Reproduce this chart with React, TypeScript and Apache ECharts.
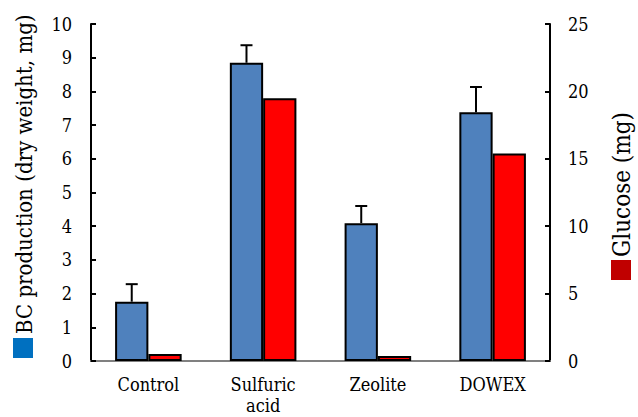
import React, { useEffect, useRef } from "react";
import * as echarts from "echarts";

const categories = ["Control", "Sulfuric\nacid", "Zeolite", "DOWEX"];
const bcProduction = [1.76, 8.85, 4.09, 7.38];
const bcError = [0.52, 0.52, 0.51, 0.75];
const glucose = [0.52, 19.5, 0.38, 15.4];
const leftTicks = { min: 0, max: 10, interval: 1 };
const rightTicks = { min: 0, max: 25, interval: 5 };

const FONT = "DejaVu Serif Condensed, DejaVu Serif";

export default function App() {
  const ref = useRef<HTMLDivElement>(null);
  useEffect(() => {
    if (!ref.current) return;
    const chart = echarts.init(ref.current, undefined, { renderer: "svg" });
    const catGap = 0.42;
    const option: any = {
      animation: false,
      backgroundColor: "#ffffff",
      textStyle: { fontFamily: FONT },
      grid: {
        left: 91,
        right: 88,
        top: 24,
        bottom: 56,
        containLabel: false,
        outerBoundsMode: "none",
      },
      xAxis: [
        {
          type: "category",
          data: categories,
          position: "bottom",
          axisLine: { lineStyle: { color: "#000", width: 2 } },
          axisTick: { inside: true, length: 5, lineStyle: { color: "#000", width: 2 } },
          axisLabel: { color: "#000", fontSize: 18, fontFamily: FONT, margin: 13, lineHeight: 21 },
        },
        {
          type: "category",
          data: categories,
          position: "top",
          axisLine: { lineStyle: { color: "#808080", width: 2 } },
          axisTick: { show: false },
          axisLabel: { show: false },
        },
      ],
      yAxis: [
        {
          type: "value",
          position: "left",
          min: leftTicks.min,
          max: leftTicks.max,
          interval: leftTicks.interval,
          splitLine: { show: false },
          axisLine: { show: true, lineStyle: { color: "#000", width: 2 } },
          axisTick: { show: true, inside: true, length: 5, lineStyle: { color: "#000", width: 2 } },
          axisLabel: { color: "#000", fontSize: 18, fontFamily: FONT, margin: 19 },
        },
        {
          type: "value",
          position: "right",
          min: rightTicks.min,
          max: rightTicks.max,
          interval: rightTicks.interval,
          splitLine: { show: false },
          axisLine: { show: true, lineStyle: { color: "#000", width: 2 } },
          axisTick: { show: true, inside: true, length: 5, lineStyle: { color: "#000", width: 2 } },
          axisLabel: { color: "#000", fontSize: 18, fontFamily: FONT, margin: 18 },
        },
      ],
      series: [
        {
          name: "BC production",
          type: "bar",
          yAxisIndex: 0,
          data: bcProduction,
          barGap: "0%",
          barCategoryGap: catGap * 100 + "%",
          itemStyle: { color: "#4f81bd", borderColor: "#000", borderWidth: 2 },
          z: 2,
        },
        {
          name: "Glucose",
          type: "bar",
          yAxisIndex: 1,
          data: glucose,
          barGap: "0%",
          barCategoryGap: catGap * 100 + "%",
          itemStyle: { color: "#ff0000", borderColor: "#000", borderWidth: 2 },
          z: 2,
        },
        {
          type: "custom",
          yAxisIndex: 0,
          z: 3,
          data: bcProduction.map((v, i) => [i, v, bcError[i]]),
          encode: { x: 0, y: 1 },
          renderItem: (params: any, api: any) => {
            const idx = api.value(0);
            const v = api.value(1);
            const e = api.value(2);
            const band = api.size([1, 0])[0];
            const barW = (band * (1 - catGap)) / 2;
            const base = api.coord([idx, v]);
            const top = api.coord([idx, v + e]);
            const x = base[0] - barW / 2;
            const style = { stroke: "#000", lineWidth: 2 };
            return {
              type: "group",
              children: [
                { type: "line", shape: { x1: x, y1: base[1], x2: x, y2: top[1] }, style },
                { type: "line", shape: { x1: x - 6, y1: top[1], x2: x + 6, y2: top[1] }, style },
              ],
            };
          },
        },
      ],
      graphic: [
        { type: "rect", shape: { x: 13, y: 338, width: 20, height: 20 }, style: { fill: "#0070c0" } },
        {
          type: "text",
          x: 24,
          y: 334,
          rotation: Math.PI / 2,
          style: {
            text: "BC production (dry weight, mg)",
            fontSize: 22,
            fontFamily: FONT,
            fill: "#000",
            textAlign: "left",
            textVerticalAlign: "middle",
          },
        },
        { type: "rect", shape: { x: 611, y: 260, width: 20, height: 20 }, style: { fill: "#c00000" } },
        {
          type: "text",
          x: 622,
          y: 257,
          rotation: Math.PI / 2,
          style: {
            text: "Glucose (mg)",
            fontSize: 24,
            fontFamily: FONT,
            fill: "#000",
            textAlign: "left",
            textVerticalAlign: "middle",
          },
        },
      ],
    };
    chart.setOption(option);
    return () => chart.dispose();
  }, []);
  return (
    <div
      ref={ref}
      style={{ position: "fixed", left: 0, top: 0, width: 638, height: 417 }}
    />
  );
}
